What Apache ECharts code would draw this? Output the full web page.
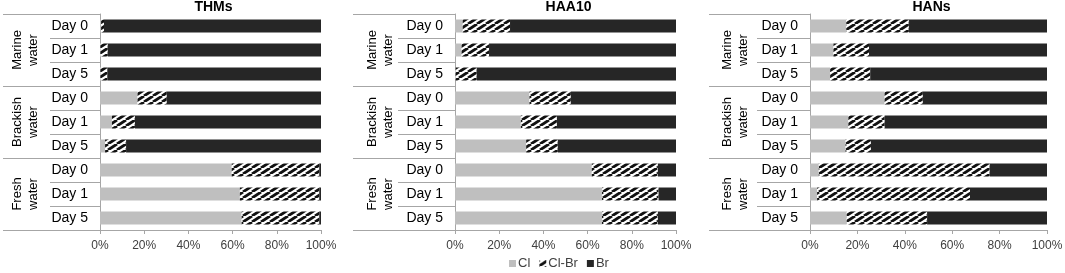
<!DOCTYPE html>
<html>
<head>
<meta charset="utf-8">
<script src="https://cdn.jsdelivr.net/npm/echarts@6/dist/echarts.min.js"></script>
<style>
html, body { margin: 0; padding: 0; background: #fff; }
#main { width: 1065px; height: 273px; }
</style>
</head>
<body>
<div id="main"></div>
<script>
// categories
var groups = ['Marine water', 'Brackish water', 'Fresh water'];
var days = ['Day 0', 'Day 1', 'Day 5'];
var ticks = [0, 20, 40, 60, 80, 100];
var titles = ['THMs', 'HAA10', 'HANs'];
var legendNames = ['Cl', 'Cl-Br', 'Br'];

// THMs (%)
var thmCl   = [0.5, 0.2, 0.2, 17.0, 5.4, 2.3, 59.6, 63.3, 64.1];
var thmClBr = [1.3, 3.3, 3.1, 13.2, 10.4, 9.5, 39.6, 35.9, 35.1];
var thmBr   = [98.2, 96.5, 96.7, 69.8, 84.2, 88.2, 0.8, 0.8, 0.8];
// HAA10 (%)
var haaCl   = [3.5, 3.0, 0.3, 33.7, 29.8, 32.2, 61.9, 66.5, 66.5];
var haaClBr = [21.4, 12.4, 9.5, 18.7, 16.3, 14.3, 29.9, 25.6, 25.3];
var haaBr   = [75.1, 84.6, 90.2, 47.6, 53.9, 53.5, 8.2, 7.9, 8.2];
// HANs (%)
var hanCl   = [15.3, 9.9, 8.5, 31.5, 16.2, 15.0, 3.7, 3.0, 15.5];
var hanClBr = [26.4, 15.0, 16.9, 16.1, 15.3, 10.7, 72.1, 64.5, 33.9];
var hanBr   = [58.3, 75.1, 74.6, 52.4, 68.5, 74.3, 24.2, 32.5, 50.6];

var panelData = [
	[thmCl, thmClBr, thmBr],
	[haaCl, haaClBr, haaBr],
	[hanCl, hanClBr, hanBr]
];

// grid layout: left edge, right edge, long tick, short tick
var panels = [
	{left: 100, right: 321, longTick: 97, shortTick: 50},
	{left: 455, right: 676, longTick: 102, shortTick: 57},
	{left: 810, right: 1047, longTick: 101, shortTick: 53}
];

// hatched fill for Cl-Br
var hatch = document.createElement('canvas');
hatch.width = 9;
hatch.height = 6;
var ctx = hatch.getContext('2d');
ctx.fillStyle = '#fff';
ctx.fillRect(0, 0, 9, 6);
ctx.strokeStyle = '#111';
ctx.lineWidth = 2.8;
[-9, 0, 9].forEach(function (dx) {
	ctx.beginPath();
	ctx.moveTo(dx, 6);
	ctx.lineTo(dx + 9, 0);
	ctx.stroke();
});

var colors = ['#bfbfbf', {image: hatch, repeat: 'repeat'}, '#262626'];

var rows = [];
groups.forEach(function (g) {
	days.forEach(function (d) {
		rows.push(g + '|' + d);
	});
});

var chart = echarts.init(document.getElementById('main'));

var grid = [], xAxis = [], yAxis = [], series = [], title = [];
panels.forEach(function (p, i) {
	grid.push({
		left: p.left,
		width: p.right - p.left,
		top: 14,
		bottom: 43,
		containLabel: false,
		outerBoundsMode: 'none'
	});
	title.push({
		text: titles[i],
		left: (p.left + p.right) / 2 + 3,
		top: 0,
		padding: 0,
		textAlign: 'center',
		textStyle: {fontSize: 14, fontWeight: 'bold', color: '#000', fontFamily: 'Liberation Sans'}
	});
	xAxis.push({
		type: 'value',
		gridIndex: i,
		min: ticks[0],
		max: ticks[ticks.length - 1],
		interval: 20,
		axisLine: {show: true, lineStyle: {color: '#a6a6a6', width: 1}},
		axisTick: {show: true, length: 4, lineStyle: {color: '#a6a6a6'}},
		splitLine: {show: false},
		axisLabel: {
			formatter: '{value}%',
			margin: 10,
			fontSize: 12,
			color: '#404040',
			fontFamily: 'Liberation Sans'
		}
	});
	// day axis
	yAxis.push({
		type: 'category',
		gridIndex: i,
		position: 'left',
		inverse: true,
		data: rows,
		axisLine: {show: true, lineStyle: {color: '#a6a6a6'}},
		axisTick: {show: true, length: p.shortTick, lineStyle: {color: '#a6a6a6'}},
		axisLabel: {
			margin: 12,
			fontSize: 14,
			color: '#000',
			fontFamily: 'Liberation Sans',
			formatter: function (v) { return v.split('|')[1]; }
		}
	});
	// group axis
	yAxis.push({
		type: 'category',
		gridIndex: i,
		position: 'left',
		offset: 0,
		inverse: true,
		data: groups,
		axisLine: {show: false},
		axisTick: {show: true, length: p.longTick, lineStyle: {color: '#a6a6a6'}},
		axisLabel: {
			rotate: 90,
			align: 'center',
			verticalAlign: 'middle',
			margin: 75,
			fontSize: 13,
			lineHeight: 16,
			color: '#000',
			fontFamily: 'Liberation Sans',
			formatter: function (v) { return v.replace(' ', '\n'); }
		}
	});
	legendNames.forEach(function (name, k) {
		series.push({
			name: name,
			type: 'bar',
			stack: 'total' + i,
			xAxisIndex: i,
			yAxisIndex: i * 2,
			barWidth: 13,
			data: panelData[i][k],
			itemStyle: {color: colors[k]}
		});
	});
});

chart.setOption({
	animation: false,
	title: title,
	legend: {
		data: legendNames,
		left: 504,
		top: 252,
		itemWidth: 7,
		itemHeight: 7,
		itemGap: 9,
		icon: 'rect',
		textStyle: {fontSize: 13, color: '#404040', fontFamily: 'Liberation Sans', padding: [0, 0, 0, -3]}
	},
	grid: grid,
	xAxis: xAxis,
	yAxis: yAxis,
	series: series
});
</script>
</body>
</html>
